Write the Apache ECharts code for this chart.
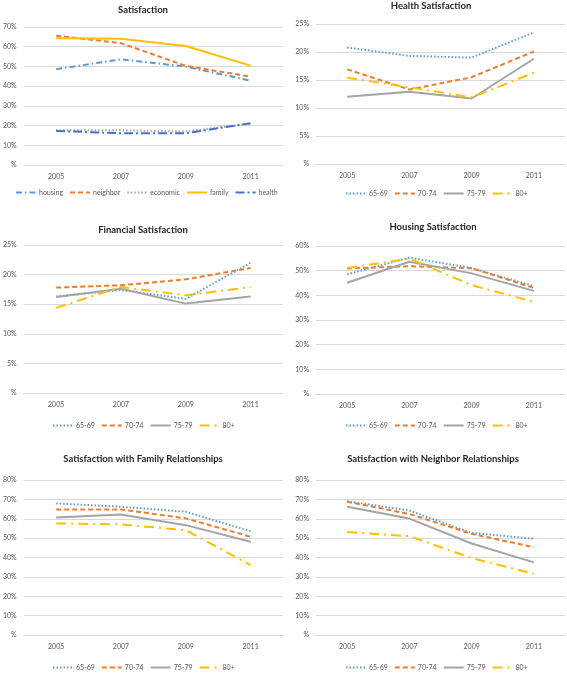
<!DOCTYPE html>
<html><head><meta charset="utf-8">
<script src="https://cdn.jsdelivr.net/npm/echarts@6/dist/echarts.min.js"></script>
<style>html,body{margin:0;padding:0;background:#fff}#c{width:567px;height:673px}</style>
</head><body><div id="c"></div>
<script>
const years = ['2005', '2007', '2009', '2011'];

// Panel 1: Satisfaction
const housing  = [48.6, 53.6, 49.9, 42.8];
const neighbor = [65.6, 61.8, 50.3, 44.8];
const economic = [17.6, 17.6, 17.0, 21.0];
const family   = [64.3, 64.0, 60.4, 50.4];
const health   = [17.3, 16.1, 16.1, 21.2];

// Panel 2: Health Satisfaction
const health6569 = [20.8, 19.3, 19.0, 23.5];
const health7074 = [16.9, 13.3, 15.5, 20.1];
const health7579 = [12.0, 12.9, 11.7, 18.8];
const health80   = [15.4, 13.7, 11.9, 16.3];

// Panel 3: Financial Satisfaction
const fin6569 = [16.3, 17.4, 15.9, 22.0];
const fin7074 = [17.8, 18.2, 19.2, 21.1];
const fin7579 = [16.2, 17.6, 15.1, 16.3];
const fin80   = [14.4, 17.9, 16.5, 17.9];

// Panel 4: Housing Satisfaction
const hou6569 = [48.5, 55.3, 51.1, 43.7];
const hou7074 = [50.9, 51.8, 51.0, 43.0];
const hou7579 = [45.1, 53.6, 48.9, 41.8];
const hou80   = [51.1, 54.9, 44.1, 37.4];

// Panel 5: Family Relationships
const fam6569 = [67.9, 66.2, 63.6, 53.6];
const fam7074 = [64.8, 64.8, 60.2, 50.7];
const fam7579 = [60.7, 62.2, 56.7, 48.1];
const fam80   = [57.6, 57.1, 54.1, 36.1];

// Panel 6: Neighbor Relationships
const nei6569 = [69.1, 64.2, 52.7, 49.7];
const nei7074 = [68.8, 62.5, 52.2, 45.3];
const nei7579 = [66.2, 60.1, 47.2, 37.5];
const nei80   = [53.1, 51.0, 39.7, 31.6];

const yMax = [70, 25, 25, 60, 80, 80];
const yInterval = [10, 5, 5, 10, 10, 10];
const titles = ['Satisfaction', 'Health Satisfaction', 'Financial Satisfaction', 'Housing Satisfaction',
  'Satisfaction with Family Relationships', 'Satisfaction with Neighbor Relationships'];

const FONT = "Lato, sans-serif";
const C_LBLUE = '#5B9BD5', C_ORANGE = '#ED7D31', C_GRAY = '#A5A5A5', C_YELLOW = '#FFC000', C_DBLUE = '#4472C4';

const styles = {
  housing:  {color: C_LBLUE, type: [6, 3, 1.5, 3]},
  neighbor: {color: C_ORANGE, type: [5, 3]},
  economic: {color: C_GRAY, type: [1.5, 2]},
  family:   {color: C_YELLOW, type: 'solid'},
  health:   {color: C_DBLUE, type: [9, 3, 2, 3]},
  '65-69':  {color: C_LBLUE, type: [1.5, 2]},
  '70-74':  {color: C_ORANGE, type: [5, 3]},
  '75-79':  {color: C_GRAY, type: 'solid'},
  '80+':    {color: C_YELLOW, type: [10, 5, 2, 5]}
};

const grids = [
  {left: 22, top: 27, width: 261, height: 138},
  {left: 316, top: 24, width: 249, height: 140},
  {left: 22, top: 245, width: 261, height: 148},
  {left: 316, top: 246, width: 249, height: 148},
  {left: 22, top: 480, width: 261, height: 155},
  {left: 316, top: 480, width: 249, height: 155}
];
const titlePos = [[143, 5], [431, 1], [143, 225], [433, 222], [143, 454], [433, 454]];
const legendPos = [[15, 189], [345, 190], [52, 422], [345, 422], [52, 664], [345, 664]];

const panelData = [
  [['housing', housing], ['neighbor', neighbor], ['economic', economic], ['family', family], ['health', health]],
  [['65-69', health6569], ['70-74', health7074], ['75-79', health7579], ['80+', health80]],
  [['65-69', fin6569], ['70-74', fin7074], ['75-79', fin7579], ['80+', fin80]],
  [['65-69', hou6569], ['70-74', hou7074], ['75-79', hou7579], ['80+', hou80]],
  [['65-69', fam6569], ['70-74', fam7074], ['75-79', fam7579], ['80+', fam80]],
  [['65-69', nei6569], ['70-74', nei7074], ['75-79', nei7579], ['80+', nei80]]
];

const option = {
  animation: false,
  backgroundColor: '#fff',
  textStyle: {fontFamily: FONT},
  title: titles.map((t, i) => ({
    text: t, left: titlePos[i][0], top: titlePos[i][1], textAlign: 'center', padding: 0,
    textStyle: {fontFamily: FONT, fontSize: 9.5, fontWeight: 'bold', color: '#262626'}
  })),
  grid: grids,
  xAxis: grids.map((g, i) => ({
    type: 'category', gridIndex: i, data: years, boundaryGap: true,
    axisLine: {lineStyle: {color: '#D9D9D9', width: 1}},
    axisTick: {show: false},
    axisLabel: {color: '#595959', fontSize: 7, fontFamily: FONT, margin: 8}
  })),
  yAxis: grids.map((g, i) => ({
    type: 'value', gridIndex: i, min: 0, max: yMax[i], interval: yInterval[i],
    axisLine: {show: false}, axisTick: {show: false},
    splitLine: {lineStyle: {color: '#D9D9D9', width: 1}},
    axisLabel: {color: '#595959', fontSize: 7, fontFamily: FONT, margin: 7,
      formatter: v => v === 0 ? '%' : v + '%'}
  })),
  legend: panelData.map((p, i) => ({
    data: p.map(s => s[0]), left: legendPos[i][0], top: legendPos[i][1], padding: 0,
    itemWidth: 20, itemHeight: 8, itemGap: 6, selectedMode: false,
    itemStyle: {opacity: 0},
    textStyle: {color: '#595959', fontSize: 7, fontFamily: FONT, padding: [0, 0, 0, -2]}
  })),
  series: []
};

panelData.forEach((p, i) => {
  p.forEach(([name, vals]) => {
    const st = styles[name];
    option.series.push({
      type: 'line', name: name, xAxisIndex: i, yAxisIndex: i, data: vals,
      symbol: 'none', color: st.color,
      lineStyle: {color: st.color, width: 2, type: st.type, cap: 'butt'},
      itemStyle: {color: st.color}
    });
  });
});

const chart = echarts.init(document.getElementById('c'), null, {renderer: 'canvas'});
chart.setOption(option);
</script></body></html>
